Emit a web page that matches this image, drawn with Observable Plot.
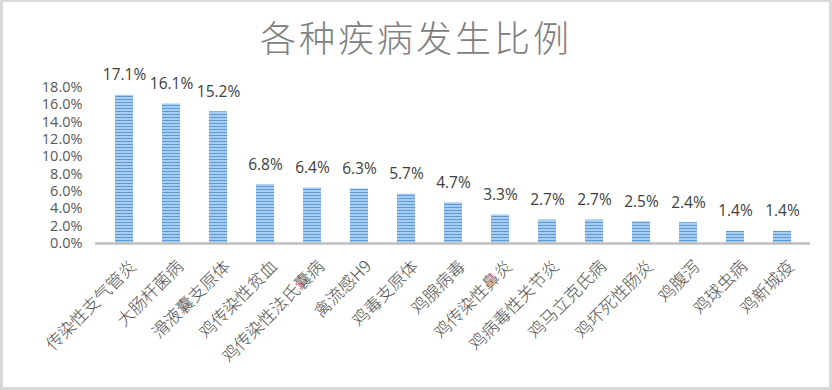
<!DOCTYPE html>
<html><head><meta charset="utf-8">
<script src="https://cdn.jsdelivr.net/npm/d3@7"></script>
<script src="https://cdn.jsdelivr.net/npm/@observablehq/plot@0.6"></script>
<style>
html,body{margin:0;padding:0;background:#fff;}
#wrap{position:relative;width:832px;height:390px;overflow:hidden;background:#fff;}
#frame{position:absolute;left:0;top:0;width:832px;height:390px;box-sizing:border-box;border:3px solid #d9d9d9;border-top-width:2px;pointer-events:none;z-index:5;}
#title{position:absolute;left:0;top:10px;width:832px;text-align:center;font-family:"Noto Sans CJK SC",sans-serif;font-size:36px;font-weight:300;color:#808080;letter-spacing:3px;line-height:52px;}
#chart{position:absolute;left:0;top:70px;}
</style></head>
<body><div id="wrap"><div id="frame"></div><div id="title">各种疾病发生比例</div><div id="chart"></div></div>
<script>
const diseases = ["传染性支气管炎","大肠杆菌病","滑液囊支原体","鸡传染性贫血","鸡传染性法氏囊病","禽流感H9","鸡毒支原体","鸡腺病毒","鸡传染性鼻炎","鸡病毒性关节炎","鸡马立克氏病","鸡坏死性肠炎","鸡腹泻","鸡球虫病","鸡新城疫"];
const rates = [17.1,16.1,15.2,6.8,6.4,6.3,5.7,4.7,3.3,2.7,2.7,2.5,2.4,1.4,1.4];
const yTicks = [0,2,4,6,8,10,12,14,16,18];
const data = diseases.map((d,i)=>({disease:d, rate:rates[i]}));

const chart = Plot.plot({
  width: 832,
  height: 316,
  marginLeft: 95,
  marginRight: 22,
  marginTop: 17,
  marginBottom: 143,
  style: {background:"transparent", overflow:"visible"},
  x: {domain: diseases, paddingInner: 0.62, paddingOuter: 0.31, axis: null},
  y: {domain: [0,18], axis: null},
  marks: [
    Plot.axisY({ticks: yTicks, label: null, tickSize: 0, tickPadding: 13, tickFormat: d => d.toFixed(1)+"%", fontSize: 14.5, fill:"#595959", fontFamily:"'Open Sans',sans-serif"}),
    Plot.barY(data, {x:"disease", y:"rate", fill:"url(#stripes)"}),
    Plot.ruleY([0], {stroke:"#bfbfbf", strokeWidth:2.5}),
    Plot.text(data, {x:"disease", y:"rate", text: d => d.rate.toFixed(1)+"%", dy:-20, fontSize:15.5, fill:"#404040", fontFamily:"'Open Sans',sans-serif"}),
    Plot.text(data, {x:"disease", y: () => 0, text:"disease", rotate:-45, textAnchor:"end", dx:9, dy:20, fontSize:17, fill:"#505050", fontFamily:"'Noto Sans CJK SC',sans-serif", fontWeight:300, style:{letterSpacing:"2.5px"}})
  ]
});
const ns = "http://www.w3.org/2000/svg";
const defs = document.createElementNS(ns,"defs");
defs.innerHTML = '<pattern id="stripes" patternUnits="userSpaceOnUse" width="6" height="3"><rect width="6" height="3" fill="#a9cdf0"/><rect y="2" width="6" height="1" fill="#5b9bd5"/></pattern>';
chart.insertBefore(defs, chart.firstChild);
document.getElementById("chart").appendChild(chart);
</script></body></html>
